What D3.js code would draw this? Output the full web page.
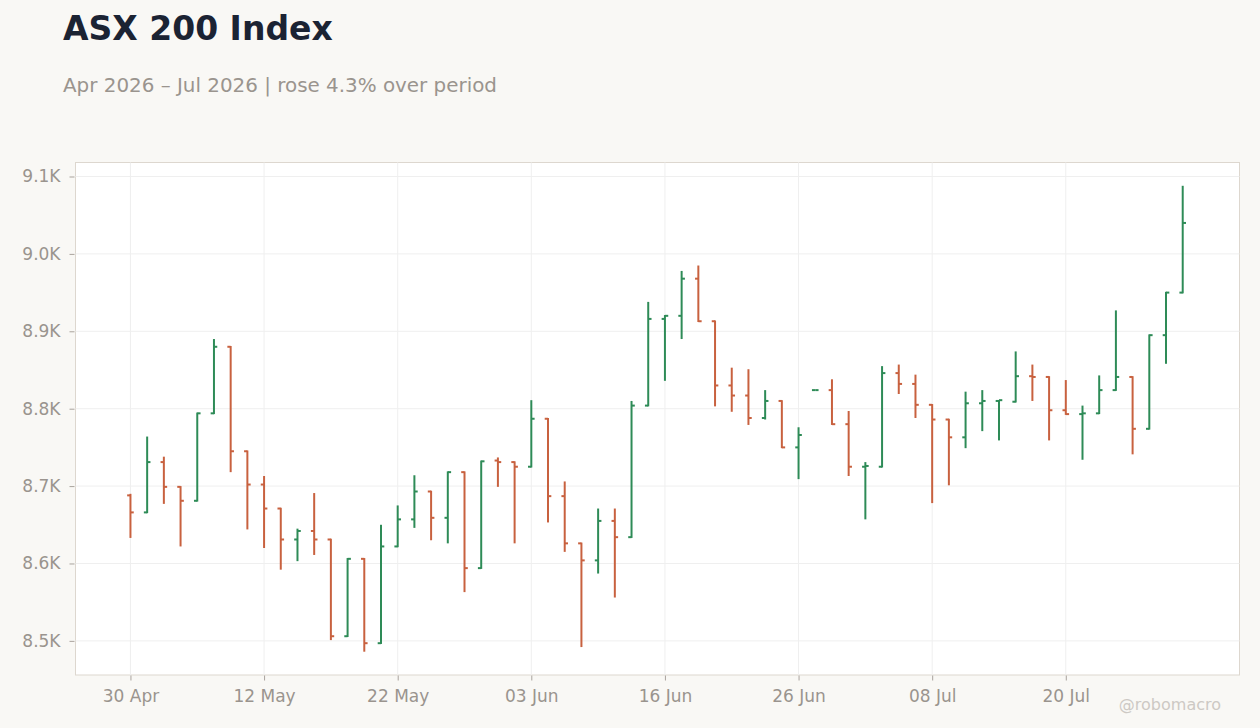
<!DOCTYPE html>
<html><head><meta charset="utf-8">
<script src="https://cdn.jsdelivr.net/npm/d3@7"></script>
<style>
html,body{margin:0;padding:0;background:#f9f8f5;}
svg{display:block;font-family:"DejaVu Sans",sans-serif;}
</style></head>
<body><svg id="c" width="1260" height="728"></svg>
<script>
const dates = ["2026-04-30","2026-05-01","2026-05-04","2026-05-05","2026-05-06","2026-05-07","2026-05-08","2026-05-11",
"2026-05-12","2026-05-13","2026-05-14","2026-05-15","2026-05-18","2026-05-19","2026-05-20","2026-05-21",
"2026-05-22","2026-05-25","2026-05-26","2026-05-27","2026-05-28","2026-05-29","2026-06-01","2026-06-02",
"2026-06-03","2026-06-04","2026-06-05","2026-06-09","2026-06-10","2026-06-11","2026-06-12","2026-06-15",
"2026-06-16","2026-06-17","2026-06-18","2026-06-19","2026-06-22","2026-06-23","2026-06-24","2026-06-25",
"2026-06-26","2026-06-29","2026-06-30","2026-07-01","2026-07-02","2026-07-03","2026-07-06","2026-07-07",
"2026-07-08","2026-07-09","2026-07-10","2026-07-13","2026-07-14","2026-07-15","2026-07-16","2026-07-17",
"2026-07-20","2026-07-21","2026-07-22","2026-07-23","2026-07-24","2026-07-27","2026-07-28","2026-07-29"];
const open  = [8688,8666,8731,8699,8681,8794,8880,8745,8702,8671,8631,8642,8631,8506,8606,8497,
8622,8657,8693,8659,8718,8594,8733,8731,8725,8787,8687,8626,8604,8655,8634,8804,
8916,8920,8968,8913,8830,8817,8788,8810,8750,8824,8824,8780,8725,8725,8846,8832,
8805,8786,8763,8807,8810,8809,8842,8841,8798,8793,8794,8824,8841,8774,8895,8950];
const high  = [8690,8764,8738,8700,8795,8890,8881,8746,8713,8672,8645,8691,8632,8607,8607,8650,
8675,8714,8694,8719,8719,8733,8737,8732,8811,8788,8706,8627,8671,8671,8810,8938,
8921,8978,8985,8914,8853,8851,8824,8811,8776,8824,8838,8797,8731,8855,8857,8844,
8806,8787,8822,8824,8811,8874,8857,8842,8837,8804,8843,8927,8842,8896,8951,9088];
const low   = [8633,8665,8677,8622,8680,8793,8718,8644,8620,8592,8603,8611,8501,8505,8486,8496,
8621,8646,8630,8626,8563,8593,8699,8626,8724,8653,8615,8492,8587,8556,8633,8803,
8836,8890,8912,8803,8796,8779,8786,8749,8709,8824,8779,8713,8657,8724,8819,8788,
8678,8701,8749,8771,8759,8808,8810,8759,8792,8734,8793,8823,8741,8773,8858,8949];
const close = [8666,8731,8699,8681,8794,8880,8745,8702,8671,8631,8642,8631,8506,8606,8497,8622,
8657,8693,8659,8718,8594,8732,8731,8725,8787,8687,8626,8604,8655,8634,8804,8916,
8920,8968,8913,8830,8817,8788,8810,8750,8766,8824,8780,8725,8726,8846,8832,8805,
8786,8763,8807,8810,8811,8842,8841,8798,8793,8794,8824,8841,8774,8895,8950,9040];
const yTicks = [8500,8600,8700,8800,8900,9000,9100];
const xTickIdx = [0,8,16,24,32,40,48,56];

const title = "ASX 200 Index";
const subtitle = "Apr 2026 – Jul 2026 | rose 4.3% over period";

const UP = "#2e8b57", DOWN = "#c8613f";
const svg = d3.select("#c");
const L = 75.5, R = 1239.5, T = 162.5, B = 675;

const parse = d3.timeParse("%Y-%m-%d");
const fmtDate = d3.timeFormat("%d %b");
const data = dates.map((d,i)=>({i, date:parse(d), o:open[i], h:high[i], l:low[i], c:close[i]}));

const minL = d3.min(low), maxH = d3.max(high), pad = (maxH-minL)*0.05;
const y = d3.scaleLinear().domain([minL-pad, maxH+pad]).range([B, T]);
const x = d3.scaleLinear().domain([-3.29, 66.4]).range([L, R]);

svg.append("rect").attr("width",1260).attr("height",728).attr("fill","#f9f8f5");
svg.append("rect").attr("x",L).attr("y",T).attr("width",R-L).attr("height",B-T)
  .attr("fill","#ffffff").attr("stroke","#ddd7cf").attr("stroke-width",1);

// grid
const g = svg.append("g");
g.selectAll("line.hy").data(yTicks).join("line")
  .attr("x1",L).attr("x2",R).attr("y1",d=>y(d)).attr("y2",d=>y(d))
  .attr("stroke","#efefef").attr("stroke-width",1);
g.selectAll("line.vx").data(xTickIdx).join("line")
  .attr("x1",d=>x(d)).attr("x2",d=>x(d)).attr("y1",T).attr("y2",B)
  .attr("stroke","#efefef").attr("stroke-width",1);

// axes
const yAxis = d3.axisLeft(y).tickValues(yTicks).tickSize(5).tickPadding(9)
  .tickFormat(d=>d3.format(".1f")(d/1000)+"K");
const ya = svg.append("g").attr("transform",`translate(${L-1},0)`).call(yAxis);
const xAxis = d3.axisBottom(x).tickValues(xTickIdx).tickSize(5).tickPadding(9)
  .tickFormat(i=>fmtDate(data[i].date));
const xa = svg.append("g").attr("transform",`translate(0,${B+0.5})`).call(xAxis);
[ya,xa].forEach(a=>{
  a.select(".domain").remove();
  a.selectAll(".tick line").attr("stroke","#a9a39d");
  a.selectAll(".tick text").attr("fill","#9a948e").style("font-size","17px")
   .style("font-family","DejaVu Sans");
});

// OHLC bars
const bars = svg.append("g").selectAll("g").data(data).join("g")
  .attr("stroke",d=>d.c>=d.o?UP:DOWN).attr("stroke-width",2);
bars.append("line").attr("x1",d=>x(d.i)).attr("x2",d=>x(d.i))
  .attr("y1",d=>y(d.h)).attr("y2",d=>y(d.l));
bars.append("line").attr("x1",d=>x(d.i)-3.3).attr("x2",d=>x(d.i))
  .attr("y1",d=>y(d.o)).attr("y2",d=>y(d.o));
bars.append("line").attr("x1",d=>x(d.i)).attr("x2",d=>x(d.i)+3.3)
  .attr("y1",d=>y(d.c)).attr("y2",d=>y(d.c));

// titles
svg.append("text").attr("x",63).attr("y",40).text(title)
  .attr("fill","#1b2333").style("font-size","33px").style("font-weight","bold");
svg.append("text").attr("x",63).attr("y",92).text(subtitle)
  .attr("fill","#9a948e").style("font-size","19.9px");
svg.append("text").attr("x",1221).attr("y",710).attr("text-anchor","end").text("@robomacro")
  .attr("fill","#cdc9c4").style("font-size","16px");
</script></body></html>
